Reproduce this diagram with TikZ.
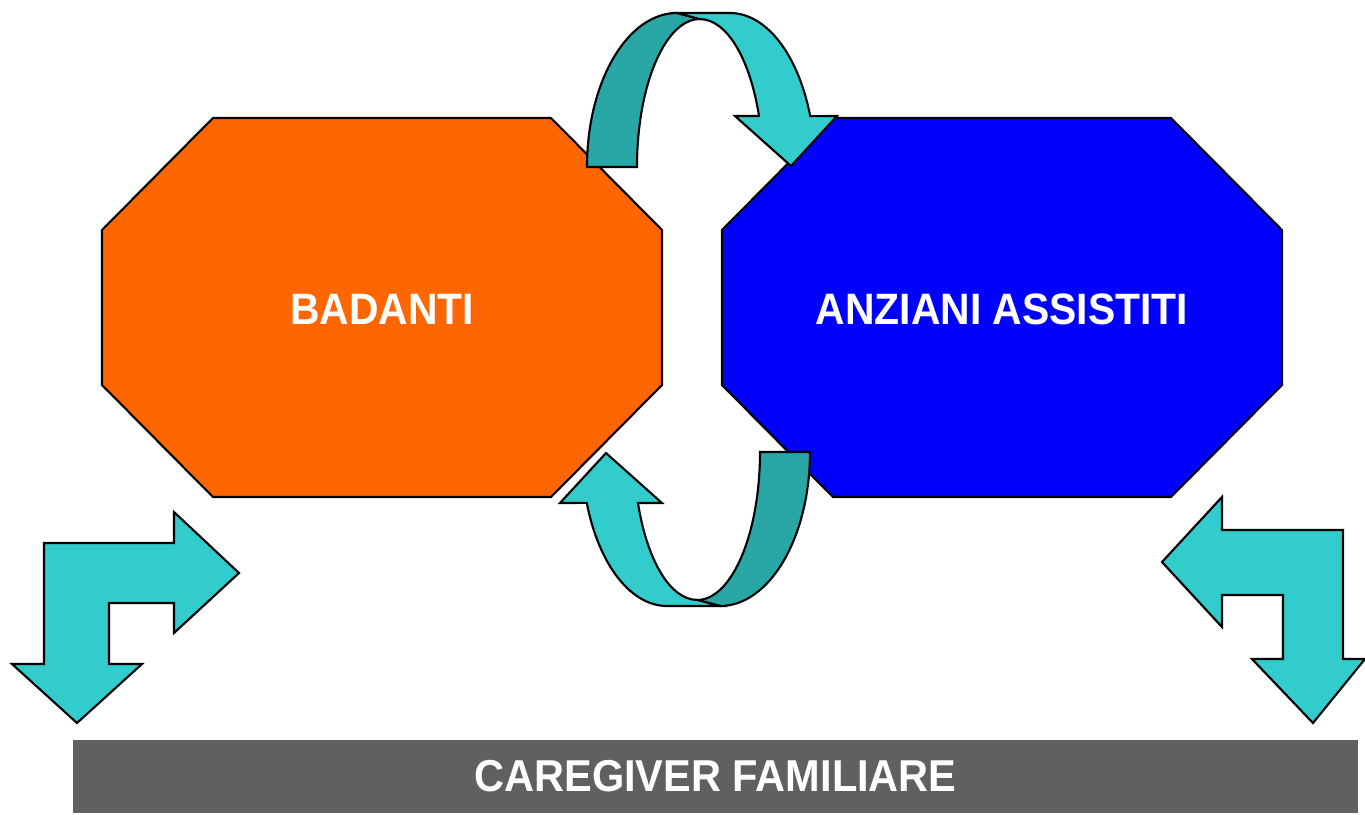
\documentclass[tikz,border=0pt]{standalone}
\usepackage{fontspec}
\setmainfont{Liberation Sans}[FakeStretch=0.93]
\definecolor{badorange}{HTML}{FF6600}
\definecolor{anzblue}{HTML}{0000FF}
\definecolor{tealfront}{HTML}{33CCCC}
\definecolor{tealback}{HTML}{29A6A6}
\definecolor{bargray}{HTML}{606060}
\tikzset{
  outline/.style={draw=black,line width=0.6pt},
  boxtext/.style={text=white,font=\bfseries\fontsize{12.5}{14}\selectfont},
}
\begin{document}
\begin{tikzpicture}[x=0.01cm,y=-0.01cm]
    \useasboundingbox (0,0) rectangle (1365,814);
    % the two octagons
	\filldraw[outline,fill=badorange] (213,118)--(551,118)--(662,230)--(662,385)--(551,497)--(213,497)--(102,385)--(102,230)--cycle;
	\filldraw[outline,fill=anzblue] (833,118)--(1171,118)--(1282,230)--(1282,385)--(1171,497)--(833,497)--(722,385)--(722,230)--cycle;
    \node[boxtext] (badanti) at (382,309) {BADANTI};
    \node[boxtext] (anziani) at (1002,309) {ANZIANI ASSISTITI};
    % curved arrows, the lower one is the upper one turned round
    \foreach \turn in {0,180}{
    \begin{scope}[rotate around={\turn:(698.5,309.5)}]
      \filldraw[outline,fill=tealback] (587,167) arc[start angle=180,end angle=270,x radius=90,y radius=154]
        --(700,19) arc[start angle=270,end angle=180,x radius=63,y radius=148]--cycle;
      \filldraw[outline,fill=tealfront] (677,13)--(730,13) arc[start angle=270,end angle=340.7,x radius=85,y radius=154]
        --(837,116)--(791,166)--(735,116)--(759,116) arc[start angle=339.8,end angle=270,x radius=63,y radius=148]--cycle;
    \end{scope}
    }
    % bent arrows
    \filldraw[outline,fill=tealfront] (44,543)--(174,543)--(174,512)--(239,573)--(174,633)--(174,603)--(109,603)--(109,664)--(142,664)--(77,723)--(12,664)--(44,664)--cycle;
    \filldraw[outline,fill=tealfront] (1162,562)--(1222,497)--(1222,530)--(1343,530)--(1343,659)--(1365,659)--(1313,723)--(1252,659)--(1283,659)--(1283,595)--(1222,595)--(1222,627)--cycle;
    % bottom bar
    \node[fill=bargray,minimum width=12.85cm,minimum height=0.73cm,text=white,font=\bfseries\fontsize{12.7}{15}\selectfont] (caregiver) at (715.5,776.5) {CAREGIVER FAMILIARE};
  \end{tikzpicture}
\end{document}
